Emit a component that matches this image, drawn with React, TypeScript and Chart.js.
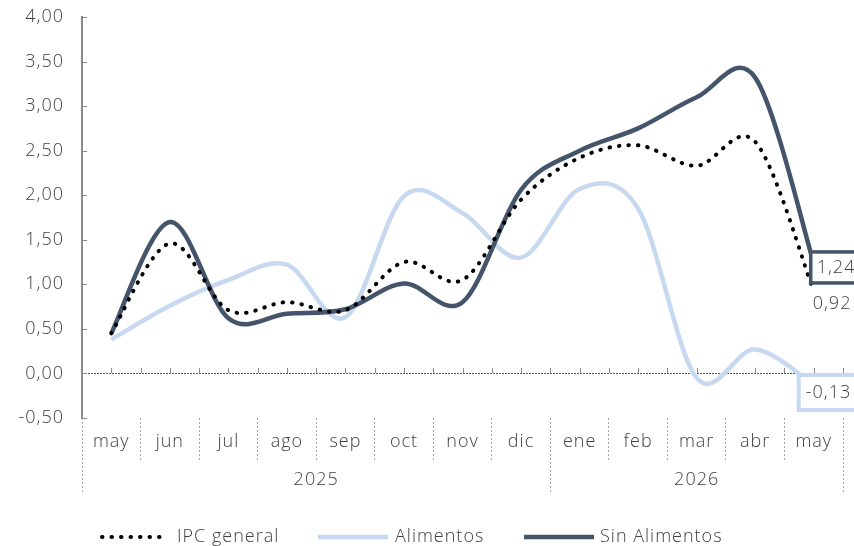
import React, { useEffect, useRef } from 'react';
import { Chart, registerables } from 'chart.js';

Chart.register(...registerables);

const months = ['may', 'jun', 'jul', 'ago', 'sep', 'oct', 'nov', 'dic', 'ene', 'feb', 'mar', 'abr', 'may'];
const years = ['2025', '2026'];
const yearSpans = [8, 5];
const ipcGeneral = [0.45, 1.46, 0.71, 0.8, 0.71, 1.25, 1.05, 1.95, 2.42, 2.56, 2.33, 2.6, 0.92];
const alimentos = [0.38, 0.76, 1.05, 1.22, 0.63, 1.99, 1.8, 1.3, 2.07, 1.85, -0.05, 0.27, -0.13];
const sinAlimentos = [0.45, 1.7, 0.62, 0.67, 0.72, 1.01, 0.8, 2.06, 2.5, 2.75, 3.1, 3.32, 1.24];
const seriesNames = ['IPC general', 'Alimentos', 'Sin Alimentos'];

const FONT = '"Open Sans", "Lato", sans-serif';
const FW = 300;
const FS = 18;
const LS = '1px';
const TEXT = '#404040';
const DARK = '#44546A';
const LIGHT = '#C6D9F0';

const fmt = (v: number) => v.toFixed(2).replace('.', ',');

export default function App() {
  const ref = useRef<HTMLCanvasElement>(null);

  useEffect(() => {
    const canvas = ref.current!;
    const fontStr = `${FW} ${FS}px ${FONT}`;

    const spacing = {
      id: 'spacing',
      beforeUpdate(chart: any) {
        chart.ctx.letterSpacing = LS;
      },
      beforeLayout(chart: any) {
        chart.ctx.letterSpacing = LS;
      },
      beforeDraw(chart: any) {
        chart.ctx.letterSpacing = LS;
      },
    };

    // Excel-like smoothing: uniform Catmull-Rom control points
    const smoothing = {
      id: 'smoothing',
      beforeDatasetsDraw(chart: any) {
        chart.getSortedVisibleDatasetMetas().forEach((meta: any) => {
          const line = meta.dataset;
          if (!line) return;
          line.updateControlPoints(chart.chartArea, meta.indexAxis);
          const pts = meta.data;
          const k = 1 / 6;
          for (let i = 0; i < pts.length; i++) {
            const p = pts[i];
            const prev = pts[i - 1] || p;
            const next = pts[i + 1] || p;
            const dx = (next.x - prev.x) * k;
            const dy = (next.y - prev.y) * k;
            p.cp1x = p.x - dx;
            p.cp1y = p.y - dy;
            p.cp2x = p.x + dx;
            p.cp2y = p.y + dy;
          }
          line._path = undefined;
        });
      },
    };

    const decor = {
      id: 'decor',
      beforeDatasetsDraw(chart: any) {
        const ctx = chart.ctx;
        const xs = chart.scales.x;
        const ys = chart.scales.y;
        const area = chart.chartArea;
        ctx.save();
        const y0 = ys.getPixelForValue(0);
        ctx.strokeStyle = '#595959';
        ctx.lineWidth = 1;
        ctx.setLineDash([2, 1]);
        ctx.beginPath();
        ctx.moveTo(area.left, Math.round(y0) + 0.5);
        ctx.lineTo(area.right, Math.round(y0) + 0.5);
        ctx.stroke();
        ctx.setLineDash([]);
        ctx.strokeStyle = '#8c8c8c';
        const half = (xs.getPixelForValue(1) - xs.getPixelForValue(0)) / 2;
        for (let i = 0; i < months.length; i++) {
          const c = xs.getPixelForValue(i);
          for (const px of [c, c + half]) {
            ctx.beginPath();
            ctx.moveTo(Math.round(px) + 0.5, Math.round(y0));
            ctx.lineTo(Math.round(px) + 0.5, Math.round(y0) - 5);
            ctx.stroke();
          }
        }
        ctx.strokeStyle = '#8c8c8c';
        ctx.lineWidth = 1;
        ys.ticks.forEach((t: any) => {
          const py = Math.round(ys.getPixelForValue(t.value)) + 0.5;
          ctx.beginPath();
          ctx.moveTo(area.left, py);
          ctx.lineTo(area.left + 5, py);
          ctx.stroke();
        });
        ctx.restore();
      },
      afterDraw(chart: any) {
        const ctx = chart.ctx;
        const xs = chart.scales.x;
        const ys = chart.scales.y;
        const area = chart.chartArea;
        const half = (xs.getPixelForValue(1) - xs.getPixelForValue(0)) / 2;
        ctx.save();
        ctx.letterSpacing = LS;
        // year separators and labels
        ctx.strokeStyle = '#a6a6a6';
        ctx.lineWidth = 1;
        ctx.setLineDash([2, 2]);
        let start = 0;
        const bounds: number[] = [xs.getPixelForValue(0) - half];
        years.forEach((yr, k) => {
          const end = start + yearSpans[k] - 1;
          const x1 = xs.getPixelForValue(start) - half;
          const x2 = xs.getPixelForValue(end) + half;
          bounds.push(x2);
          ctx.fillStyle = TEXT;
          ctx.font = fontStr;
          ctx.textAlign = 'center';
          ctx.textBaseline = 'middle';
          ctx.fillText(yr, (x1 + x2) / 2, area.bottom + 62);
          start = end + 1;
        });
        bounds.forEach((b) => {
          const bx = Math.round(b) + 0.5;
          ctx.beginPath();
          ctx.moveTo(bx, area.bottom);
          ctx.lineTo(bx, area.bottom + 74);
          ctx.stroke();
        });
        ctx.setLineDash([]);

        // data labels on last point
        const last = months.length - 1;
        const px = xs.getPixelForValue(last);
        ctx.font = fontStr;
        ctx.textAlign = 'left';
        ctx.textBaseline = 'middle';
        // Sin Alimentos box
        {
          const py = ys.getPixelForValue(sinAlimentos[last]);
          ctx.fillStyle = '#fff';
          ctx.fillRect(px - 3, py - 11, 70, 31);
          ctx.strokeStyle = DARK;
          ctx.lineWidth = 3.5;
          ctx.strokeRect(px - 3, py - 11, 70, 31);
          ctx.fillStyle = TEXT;
          ctx.fillText(fmt(sinAlimentos[last]), px + 3, py + 5);
        }
        // IPC label
        {
          const py = ys.getPixelForValue(ipcGeneral[last]);
          ctx.fillStyle = TEXT;
          ctx.fillText(fmt(ipcGeneral[last]), px - 1, py + 12);
        }
        // Alimentos box
        {
          const py = ys.getPixelForValue(alimentos[last]);
          ctx.fillStyle = '#fff';
          ctx.fillRect(px - 15, py - 10, 80, 35);
          ctx.strokeStyle = LIGHT;
          ctx.lineWidth = 4;
          ctx.strokeRect(px - 15, py - 10, 80, 35);
          ctx.fillStyle = TEXT;
          ctx.fillText(fmt(alimentos[last]), px - 8, py + 8);
        }

        // legend
        const ly = 537;
        const ds = chart.data.datasets;
        const sampleX = [[102, 161], [318, 388], [524, 594]];
        const textX = [177, 395, 600];
        [0, 1, 2].forEach((i) => {
          const d = ds[i];
          ctx.save();
          ctx.strokeStyle = d.borderColor;
          ctx.lineWidth = d.borderWidth;
          ctx.lineCap = d.borderCapStyle || 'butt';
          ctx.setLineDash(d.borderDash || []);
          ctx.beginPath();
          ctx.moveTo(sampleX[i][0], ly);
          ctx.lineTo(sampleX[i][1], ly);
          ctx.stroke();
          ctx.restore();
          ctx.fillStyle = TEXT;
          ctx.font = fontStr;
          ctx.textAlign = 'left';
          ctx.textBaseline = 'middle';
          ctx.fillText(d.label, textX[i], ly);
        });
        ctx.restore();
      },
    };

    const chart = new Chart(canvas, {
      type: 'line',
      data: {
        labels: months,
        datasets: [
          {
            label: seriesNames[0],
            data: ipcGeneral,
            borderColor: '#000000',
            borderWidth: 4,
            borderCapStyle: 'round',
            borderDash: [0.5, 9],
            order: 0,
          },
          {
            label: seriesNames[1],
            data: alimentos,
            borderColor: LIGHT,
            borderWidth: 4.5,
            order: 2,
          },
          {
            label: seriesNames[2],
            data: sinAlimentos,
            borderColor: DARK,
            borderWidth: 4.5,
            order: 1,
          },
        ],
      },
      options: {
        responsive: false,
        maintainAspectRatio: false,
        animation: false,
        devicePixelRatio: 1,
        layout: { padding: { top: 17, right: 11, left: 0, bottom: 0 } },
        elements: { point: { radius: 0 }, line: { tension: 0.35, fill: false } },
        plugins: { legend: { display: false }, tooltip: { enabled: false } },
        scales: {
          x: {
            offset: true,
            grid: {
              offset: true,
              drawOnChartArea: false,
              drawTicks: true,
              tickLength: 44,
              tickColor: '#a6a6a6',
              tickWidth: 1,
              tickBorderDash: [2, 2],
            },
            border: { display: false },
            ticks: {
              padding: -31,
              color: TEXT,
              font: { family: FONT, size: FS, weight: FW },
              maxRotation: 0,
              autoSkip: false,
            },
            afterFit: (s: any) => {
              s.height = 128;
              s.paddingLeft = 0;
              s.paddingRight = 0;
            },
          },
          y: {
            min: -0.5,
            max: 4,
            ticks: {
              stepSize: 0.5,
              padding: 18,
              color: TEXT,
              font: { family: FONT, size: FS, weight: FW },
              callback: (v: any) => fmt(Number(v)),
            },
            grid: { display: true, drawOnChartArea: false, drawTicks: false },
            border: { display: true, color: '#8c8c8c', width: 2 },
            afterFit: (s: any) => {
              s.width = 82;
              s.paddingTop = 0;
              s.paddingBottom = 0;
            },
          },
        },
      },
      plugins: [spacing, smoothing, decor],
    } as any);

    return () => chart.destroy();
  }, []);

  return (
    <div style={{ position: 'fixed', left: 0, top: 0, width: 854, height: 546, background: '#fff' }}>
      <canvas ref={ref} width={854} height={546} style={{ display: 'block', width: 854, height: 546 }} />
    </div>
  );
}
